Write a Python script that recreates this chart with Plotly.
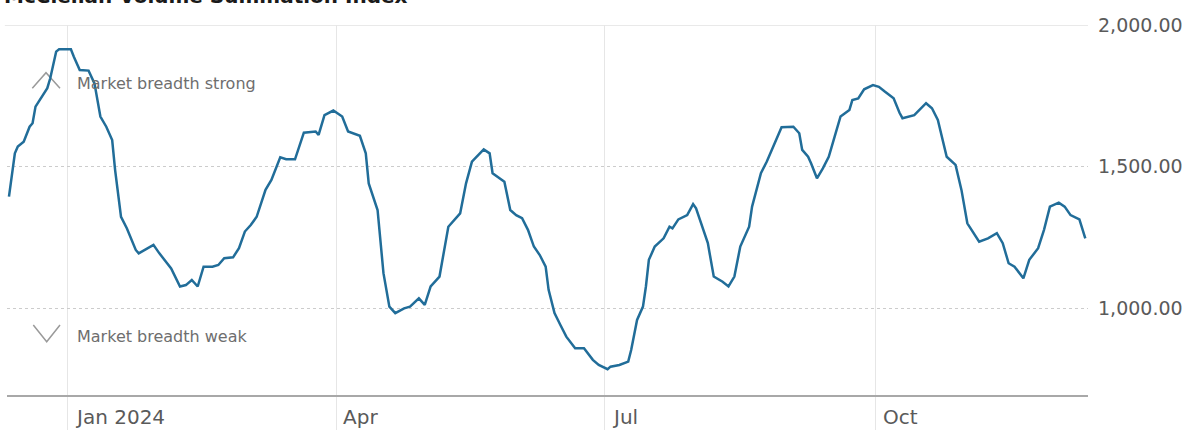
import plotly.graph_objects as go

# McClellan Volume Summation Index, daily readings
dates = [
    "2023-12-12", "2023-12-14", "2023-12-15", "2023-12-17", "2023-12-19", "2023-12-20",
    "2023-12-21", "2023-12-23", "2023-12-25", "2023-12-26", "2023-12-28", "2023-12-29",
    "2024-01-02", "2024-01-03", "2024-01-05", "2024-01-08", "2024-01-10", "2024-01-12",
    "2024-01-14", "2024-01-16", "2024-01-17", "2024-01-19", "2024-01-21", "2024-01-24",
    "2024-01-25", "2024-01-30", "2024-02-01", "2024-02-05", "2024-02-08", "2024-02-10",
    "2024-02-12", "2024-02-14", "2024-02-16", "2024-02-19", "2024-02-21", "2024-02-23",
    "2024-02-26", "2024-02-28", "2024-03-01", "2024-03-03", "2024-03-05", "2024-03-08",
    "2024-03-10", "2024-03-13", "2024-03-15", "2024-03-18", "2024-03-21", "2024-03-25",
    "2024-03-26", "2024-03-28", "2024-03-31", "2024-04-03", "2024-04-05", "2024-04-09",
    "2024-04-11", "2024-04-12", "2024-04-15", "2024-04-17", "2024-04-19", "2024-04-21",
    "2024-04-24", "2024-04-26", "2024-04-29", "2024-05-01", "2024-05-03", "2024-05-06",
    "2024-05-07", "2024-05-09", "2024-05-13", "2024-05-15", "2024-05-17", "2024-05-19",
    "2024-05-21", "2024-05-23", "2024-05-24", "2024-05-28", "2024-05-30", "2024-06-01",
    "2024-06-03", "2024-06-05", "2024-06-07", "2024-06-09", "2024-06-11", "2024-06-12",
    "2024-06-14", "2024-06-16", "2024-06-18", "2024-06-21", "2024-06-24", "2024-06-27",
    "2024-06-29", "2024-07-02", "2024-07-03", "2024-07-06", "2024-07-09", "2024-07-10",
    "2024-07-12", "2024-07-14", "2024-07-15", "2024-07-16", "2024-07-18", "2024-07-21",
    "2024-07-23", "2024-07-24", "2024-07-26", "2024-07-29", "2024-07-31", "2024-08-01",
    "2024-08-05", "2024-08-07", "2024-08-10", "2024-08-12", "2024-08-14", "2024-08-16",
    "2024-08-19", "2024-08-20", "2024-08-23", "2024-08-25", "2024-08-27", "2024-08-28",
    "2024-08-30", "2024-09-03", "2024-09-05", "2024-09-06", "2024-09-08", "2024-09-09",
    "2024-09-11", "2024-09-13", "2024-09-15", "2024-09-17", "2024-09-19", "2024-09-22",
    "2024-09-23", "2024-09-25", "2024-09-27", "2024-09-30", "2024-10-02", "2024-10-04",
    "2024-10-07", "2024-10-09", "2024-10-10", "2024-10-14", "2024-10-18", "2024-10-20",
    "2024-10-22", "2024-10-25", "2024-10-28", "2024-10-30", "2024-11-01", "2024-11-05",
    "2024-11-08", "2024-11-11", "2024-11-13", "2024-11-15", "2024-11-17", "2024-11-20",
    "2024-11-22", "2024-11-25", "2024-11-27", "2024-11-29", "2024-12-02", "2024-12-04",
    "2024-12-06", "2024-12-09", "2024-12-11",
]
values = [
    1394, 1547, 1571, 1588, 1641, 1653,
    1712, 1747, 1777, 1812, 1906, 1914,
    1914, 1888, 1841, 1839, 1794, 1677,
    1641, 1594, 1488, 1323, 1282, 1206,
    1194, 1224, 1194, 1141, 1077, 1082,
    1100, 1077, 1147, 1147, 1153, 1177,
    1180, 1212, 1271, 1294, 1323, 1418,
    1453, 1533, 1526, 1526, 1620, 1624,
    1612, 1682, 1698, 1677, 1624, 1609,
    1547, 1441, 1347, 1124, 1006, 983,
    1000, 1006, 1035, 1012, 1077, 1112,
    1171, 1288, 1335, 1441, 1518, 1541,
    1561, 1547, 1477, 1447, 1347, 1329,
    1318, 1277, 1218, 1188, 1147, 1065,
    983, 941, 900, 859, 859, 818,
    800, 785, 794, 800, 812, 853,
    959, 1006, 1077, 1171, 1218, 1247,
    1288, 1282, 1314, 1329, 1368, 1353,
    1230, 1112, 1094, 1077, 1112, 1218,
    1288, 1359, 1477, 1518, 1565, 1588,
    1639, 1641, 1618, 1559, 1535, 1512,
    1459, 1494, 1535, 1606, 1677, 1700,
    1735, 1741, 1773, 1788, 1782, 1765,
    1741, 1690, 1671, 1682, 1724, 1706,
    1665, 1535, 1506, 1418, 1300, 1235,
    1247, 1265, 1230, 1159, 1147, 1106,
    1171, 1212, 1277, 1359, 1373, 1359,
    1329, 1314, 1247,
]

month_ticks = ["2024-01-01", "2024-04-01", "2024-07-01", "2024-10-01"]
month_labels = ["Jan 2024", "Apr", "Jul", "Oct"]
y_ticks = [1000, 1500, 2000]

TITLE = "McClellan Volume Summation Index"
STRONG = "Market breadth strong"
WEAK = "Market breadth weak"

W, H = 1186, 430
ML, MR, MT, MB = 7, 98, 25, 35
PW, PH = W - ML - MR, H - MT - MB

LINE_COLOR = "#216d99"
TEXT_GREY = "#5a5a5a"
FONT = "DejaVu Sans"


def px_x(p):
    return (p - ML) / PW


def px_y(p):
    return (H - MB - p) / PH


fig = go.Figure(
    go.Scatter(
        x=dates, y=values, mode="lines",
        line=dict(color=LINE_COLOR, width=2.5),
        hoverinfo="skip",
    )
)

fig.update_layout(
    width=W, height=H,
    margin=dict(l=ML, r=MR, t=MT, b=MB, autoexpand=False),
    paper_bgcolor="white", plot_bgcolor="white",
    showlegend=False,
)

fig.update_xaxes(
    range=["2023-12-11 08:00", "2024-12-11 22:00"],
    tickvals=month_ticks, showticklabels=False,
    showgrid=True, gridcolor="#e6e6e6", gridwidth=1,
    ticks="outside", ticklen=35, tickcolor="#e6e6e6", tickwidth=1,
    showline=True, linecolor="#a8a8a8", linewidth=2,
    zeroline=False, fixedrange=True, automargin=False,
)

fig.update_yaxes(
    range=[694, 2000], side="right",
    tickvals=y_ticks, tickformat=",.2f",
    showgrid=True, gridcolor="#cccccc", griddash="dot", gridwidth=1,
    zeroline=False, showline=False, ticks="",
    ticklabelstandoff=9, automargin=False,
    tickfont=dict(family=FONT, size=19, color=TEXT_GREY),
    fixedrange=True,
)

shapes = [
    # solid rule along the top of the plot
    dict(type="line", xref="paper", yref="y", x0=-0.002, x1=1, y0=2000, y1=2000,
         line=dict(color="#e2e2e2", width=1.5), layer="below"),
    # up chevron
    dict(type="path", xref="paper", yref="paper", layer="below",
         path=f"M {px_x(32.3)} {px_y(88.3)} L {px_x(46)} {px_y(72.7)} L {px_x(60)} {px_y(88.3)}",
         line=dict(color="#9a9a9a", width=1.5)),
    # down chevron
    dict(type="path", xref="paper", yref="paper", layer="below",
         path=f"M {px_x(33.3)} {px_y(325)} L {px_x(46.7)} {px_y(341.7)} L {px_x(60)} {px_y(325)}",
         line=dict(color="#9a9a9a", width=1.5)),
]
fig.update_layout(shapes=shapes)

annotations = [
    dict(text=f"<b>{TITLE}</b>", xref="paper", yref="paper", x=0, y=1,
         xanchor="left", yanchor="bottom", xshift=-5, yshift=15, showarrow=False,
         font=dict(family=FONT, size=20, color="#1a1a1a")),
    dict(text=STRONG, xref="paper", yref="paper", x=px_x(75), y=px_y(83.5),
         xanchor="left", yanchor="middle", showarrow=False,
         font=dict(family=FONT, size=16, color="#6e6e6e")),
    dict(text=WEAK, xref="paper", yref="paper", x=px_x(75), y=px_y(336.5),
         xanchor="left", yanchor="middle", showarrow=False,
         font=dict(family=FONT, size=16, color="#6e6e6e")),
]
# month labels sit just right of each month rule, below the axis
for d, lab in zip(month_ticks, month_labels):
    annotations.append(
        dict(text=lab, xref="x", yref="paper", x=d, y=px_y(430),
             xanchor="left", yanchor="bottom", xshift=6, borderpad=0,
             showarrow=False,
             font=dict(family=FONT, size=20, color=TEXT_GREY))
    )
fig.update_layout(annotations=annotations)

fig.write_html("out.html")
